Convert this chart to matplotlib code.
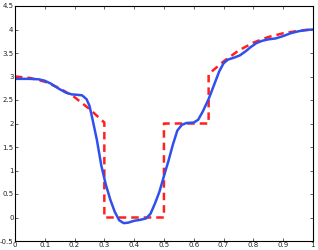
import matplotlib
matplotlib.use("Agg")
import matplotlib.pyplot as plt

# dashed red: target piecewise function
red_x = [0.0, 0.05, 0.1, 0.15, 0.2, 0.25, 0.3, 0.3, 0.5, 0.5, 0.65, 0.65,
         0.7, 0.75, 0.8, 0.85, 0.9, 0.95, 1.0]
red_y = [3.0, 2.97, 2.89, 2.75, 2.56, 2.31, 2.02, 0.0, 0.0, 2.0, 2.0, 3.05,
         3.32, 3.55, 3.72, 3.84, 3.92, 3.97, 4.0]

# solid blue: smooth approximation
blue_x = [0.0, 0.05, 0.08, 0.1, 0.12, 0.15, 0.17, 0.19, 0.21, 0.225, 0.24,
          0.25, 0.26, 0.275, 0.29, 0.305, 0.32, 0.335, 0.35, 0.365, 0.38,
          0.40, 0.42, 0.44, 0.455, 0.47, 0.485, 0.50, 0.515, 0.53, 0.545,
          0.56, 0.575, 0.60, 0.615, 0.63, 0.65, 0.67, 0.685, 0.70, 0.715,
          0.735, 0.755, 0.775, 0.79, 0.81, 0.83, 0.85, 0.875, 0.90, 0.925,
          0.95, 0.975, 1.0]
blue_y = [2.95, 2.95, 2.94, 2.91, 2.85, 2.73, 2.66, 2.62, 2.61, 2.60, 2.52,
          2.38, 2.10, 1.65, 1.10, 0.70, 0.38, 0.12, -0.06, -0.12, -0.11,
          -0.07, -0.05, -0.02, 0.08, 0.30, 0.55, 0.88, 1.20, 1.55, 1.85,
          1.97, 2.01, 2.02, 2.08, 2.25, 2.52, 2.85, 3.10, 3.28, 3.36,
          3.40, 3.45, 3.54, 3.62, 3.71, 3.76, 3.79, 3.81, 3.86, 3.92,
          3.96, 3.99, 4.0]

fig = plt.figure(figsize=(3.18, 2.5), dpi=100)
ax = fig.add_axes([0.047, 0.036, 0.937, 0.94])

ax.plot(red_x, red_y, color='#ff2020', lw=1.8, ls=(0, (3, 2)))
ax.plot(blue_x, blue_y, color='#3050ee', lw=1.8)

ax.set_xlim(0, 1)
ax.set_ylim(-0.5, 4.5)
xt = [i / 10 for i in range(11)]
yt = [-0.5 + i * 0.5 for i in range(11)]
ax.set_xticks(xt)
ax.set_xticklabels([f'{v:g}' for v in xt])
ax.set_yticks(yt)
ax.set_yticklabels([f'{v:g}' for v in yt])
ax.tick_params(direction='in', top=True, right=True, labelsize=5,
               length=2.5, width=0.5, pad=1, colors='#222222')
for s in ax.spines.values():
    s.set_linewidth(0.8)

fig.savefig('out.png', dpi=100)
